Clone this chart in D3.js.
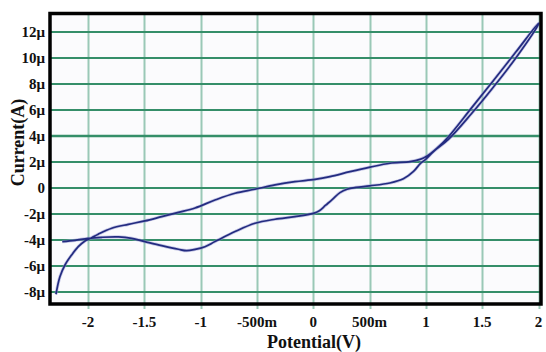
<!DOCTYPE html>
<html>
<head>
<meta charset="utf-8">
<script src="https://cdn.jsdelivr.net/npm/d3@7"></script>
<style>
  html, body { margin: 0; padding: 0; background: #ffffff; }
  svg { display: block; }
  text { font-family: "Liberation Serif", "Times New Roman", serif; font-weight: bold; fill: #111; }
</style>
</head>
<body>
<svg id="chart" width="546" height="352"></svg>
<script>
// Cyclic sweep: potential in volts, current in microamps
const forwardV = [-2.285, -2.25, -2.205, -2.146, -2.087, -2.027, -1.968, -1.91, -1.79, -1.643,
  -1.495, -1.346, -1.198, -1.05, -0.873, -0.695, -0.518, -0.34, -0.163, 0.015,
  0.148, 0.326, 0.504, 0.681, 0.859, 0.948, 1.007, 1.096, 1.2, 1.4, 1.6, 1.8, 2.0];
const forwardI = [-8.2, -6.85, -5.95, -5.18, -4.54, -4.1, -3.85, -3.58, -3.12, -2.82,
  -2.56, -2.23, -1.9, -1.56, -0.95, -0.43, -0.12, 0.21, 0.46, 0.64,
  0.85, 1.23, 1.58, 1.88, 2.0, 2.18, 2.42, 3.03, 3.92, 6.08, 8.25, 10.45, 12.65];

const reverseV = [2.0, 1.8, 1.6, 1.4, 1.2, 1.07, 1.0, 0.95, 0.89, 0.8, 0.68, 0.5, 0.38, 0.3,
  0.237, 0.17, 0.11, 0.05, 0.0, -0.163, -0.34, -0.518, -0.695, -0.873, -0.962, -1.05,
  -1.125, -1.198, -1.346, -1.495, -1.613, -1.73, -1.88, -2.0, -2.116, -2.229];
const reverseI = [12.6, 10.0, 7.75, 5.65, 3.72, 2.8, 2.2, 1.85, 1.25, 0.68, 0.36, 0.14, 0.02, -0.12,
  -0.38, -0.9, -1.35, -1.8, -1.98, -2.23, -2.43, -2.74, -3.38, -4.15, -4.54, -4.75,
  -4.85, -4.74, -4.46, -4.15, -3.9, -3.79, -3.82, -3.9, -4.05, -4.15];

const xTicks = [-2, -1.5, -1, -0.5, 0, 0.5, 1, 1.5, 2];
const xTickLabels = ["-2", "-1.5", "-1", "-500m", "0", "500m", "1", "1.5", "2"];
const yTicks = [-8, -6, -4, -2, 0, 2, 4, 6, 8, 10, 12];
const yTickLabels = ["-8\u03bc", "-6\u03bc", "-4\u03bc", "-2\u03bc", "0", "2\u03bc", "4\u03bc", "6\u03bc", "8\u03bc", "10\u03bc", "12\u03bc"];

const svg = d3.select("#chart");
const plotL = 50, plotR = 541, plotT = 13.5, plotB = 304;

const x = d3.scaleLinear().domain([-2.338, 2.022]).range([plotL, plotR]);
const y = d3.scaleLinear().domain([-8.95, 13.4]).range([plotB, plotT]);

// plot background
svg.append("rect")
  .attr("x", plotL).attr("y", plotT)
  .attr("width", plotR - plotL).attr("height", plotB - plotT)
  .attr("fill", "#fbfbfd");

// vertical grid (dotted look)
const grid = svg.append("g");
grid.selectAll("line.v").data(xTicks).join("line")
  .attr("class", "v")
  .attr("x1", d => Math.round(x(d)) + 0.5).attr("x2", d => Math.round(x(d)) + 0.5)
  .attr("y1", plotT).attr("y2", plotB + 5)
  .attr("stroke", "#3a9672").attr("stroke-width", 2)
  .attr("stroke-dasharray", "1,1");

// horizontal grid
grid.selectAll("line.h").data(yTicks).join("line")
  .attr("class", "h")
  .attr("x1", plotL).attr("x2", plotR)
  .attr("y1", d => Math.round(y(d))).attr("y2", d => Math.round(y(d)))
  .attr("stroke", "#358e69")
  .attr("stroke-width", d => d === 4 ? 2.6 : 1.8);

// voltammogram loop
const pts = forwardV.map((v, i) => [v, forwardI[i]])
  .concat(reverseV.map((v, i) => [v, reverseI[i]]));
const line = d3.line().x(d => x(d[0])).y(d => y(d[1])).curve(d3.curveCatmullRom.alpha(0.5));

svg.append("path").datum(pts)
  .attr("d", line).attr("fill", "none")
  .attr("stroke", "#9a9dd4").attr("stroke-width", 3.2).attr("stroke-opacity", 0.55);
svg.append("path").datum(pts)
  .attr("d", line).attr("fill", "none")
  .attr("stroke", "#232b80").attr("stroke-width", 1.7);

// frame
svg.append("rect")
  .attr("x", plotL).attr("y", plotT)
  .attr("width", plotR - plotL).attr("height", plotB - plotT)
  .attr("fill", "none").attr("stroke", "#000").attr("stroke-width", 3.5);

// tick labels
svg.append("g").selectAll("text").data(xTicks).join("text")
  .attr("x", d => x(d)).attr("y", 327)
  .attr("text-anchor", "middle").attr("font-size", 15)
  .text((d, i) => xTickLabels[i]);

svg.append("g").selectAll("text").data(yTicks).join("text")
  .attr("x", 45).attr("y", d => y(d) + 5)
  .attr("text-anchor", "end").attr("font-size", 15)
  .text((d, i) => yTickLabels[i]);

// axis titles
svg.append("text")
  .attr("x", 314).attr("y", 348)
  .attr("text-anchor", "middle").attr("font-size", 18)
  .text("Potential(V)");

svg.append("text")
  .attr("transform", "translate(24,142.5) rotate(-90)")
  .attr("text-anchor", "middle").attr("font-size", 18)
  .text("Current(A)");
</script>
</body>
</html>
